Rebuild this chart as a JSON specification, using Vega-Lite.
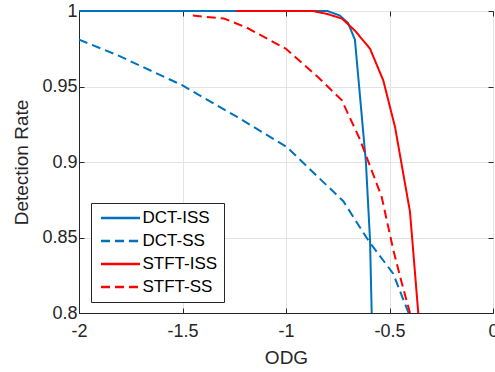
{
  "$schema": "https://vega.github.io/schema/vega-lite/v6.json",
  "width": 414,
  "height": 302,
  "autosize": "none",
  "padding": {"left": 79, "top": 11, "right": 2, "bottom": 59},
  "background": "white",
  "config": {
    "font": "Liberation Sans",
    "view": {"stroke": "#262626", "strokeWidth": 1}
  },
  "data": {
    "values": [
      {"series": "DCT-ISS", "odg": -2.0, "rate": 1.0},
      {"series": "DCT-ISS", "odg": -0.8, "rate": 1.0},
      {"series": "DCT-ISS", "odg": -0.74, "rate": 0.997},
      {"series": "DCT-ISS", "odg": -0.70, "rate": 0.992},
      {"series": "DCT-ISS", "odg": -0.667, "rate": 0.981},
      {"series": "DCT-ISS", "odg": -0.614, "rate": 0.900},
      {"series": "DCT-ISS", "odg": -0.594, "rate": 0.848},
      {"series": "DCT-ISS", "odg": -0.586, "rate": 0.800},
      {"series": "DCT-SS", "odg": -2.0, "rate": 0.981},
      {"series": "DCT-SS", "odg": -1.818, "rate": 0.971},
      {"series": "DCT-SS", "odg": -1.504, "rate": 0.951},
      {"series": "DCT-SS", "odg": -1.238, "rate": 0.930},
      {"series": "DCT-SS", "odg": -0.997, "rate": 0.910},
      {"series": "DCT-SS", "odg": -0.723, "rate": 0.874},
      {"series": "DCT-SS", "odg": -0.602, "rate": 0.848},
      {"series": "DCT-SS", "odg": -0.482, "rate": 0.826},
      {"series": "DCT-SS", "odg": -0.408, "rate": 0.800},
      {"series": "STFT-ISS", "odg": -1.24, "rate": 1.0},
      {"series": "STFT-ISS", "odg": -0.87, "rate": 1.0},
      {"series": "STFT-ISS", "odg": -0.80, "rate": 0.998},
      {"series": "STFT-ISS", "odg": -0.73, "rate": 0.995},
      {"series": "STFT-ISS", "odg": -0.667, "rate": 0.987},
      {"series": "STFT-ISS", "odg": -0.594, "rate": 0.975},
      {"series": "STFT-ISS", "odg": -0.53, "rate": 0.954},
      {"series": "STFT-ISS", "odg": -0.473, "rate": 0.923},
      {"series": "STFT-ISS", "odg": -0.401, "rate": 0.867},
      {"series": "STFT-ISS", "odg": -0.361, "rate": 0.800},
      {"series": "STFT-SS", "odg": -1.45, "rate": 0.997},
      {"series": "STFT-SS", "odg": -1.3, "rate": 0.995},
      {"series": "STFT-SS", "odg": -1.19, "rate": 0.989},
      {"series": "STFT-SS", "odg": -1.0, "rate": 0.975},
      {"series": "STFT-SS", "odg": -0.836, "rate": 0.955},
      {"series": "STFT-SS", "odg": -0.731, "rate": 0.941},
      {"series": "STFT-SS", "odg": -0.643, "rate": 0.915},
      {"series": "STFT-SS", "odg": -0.538, "rate": 0.877},
      {"series": "STFT-SS", "odg": -0.482, "rate": 0.842},
      {"series": "STFT-SS", "odg": -0.441, "rate": 0.820},
      {"series": "STFT-SS", "odg": -0.401, "rate": 0.800}
    ]
  },
  "resolve": {"axis": {"x": "independent", "y": "independent"}},
  "layer": [
    {
      "mark": {"type": "line", "opacity": 0},
      "encoding": {
        "x": {
          "field": "odg", "type": "quantitative",
          "scale": {"domain": [-2, 0], "nice": false},
          "axis": {
            "orient": "top", "title": null, "labels": false, "grid": false, "domain": false,
            "values": [-2, -1.5, -1, -0.5, 0], "tickSize": -5, "tickColor": "#262626"
          }
        },
        "y": {
          "field": "rate", "type": "quantitative",
          "scale": {"domain": [0.8, 1], "nice": false, "zero": false},
          "axis": {
            "orient": "right", "title": null, "labels": false, "grid": false, "domain": false,
            "values": [0.8, 0.85, 0.9, 0.95, 1], "tickSize": -5, "tickColor": "#262626"
          }
        }
      }
    },
    {
      "mark": {"type": "line", "strokeWidth": 2, "clip": false},
      "encoding": {
        "x": {
          "field": "odg", "type": "quantitative",
          "scale": {"domain": [-2, 0], "nice": false},
          "axis": {
            "orient": "bottom", "title": "ODG", "values": [-2, -1.5, -1, -0.5, 0],
            "labelExpr": "toString(datum.value)",
            "labelFontSize": 18, "labelColor": "#262626", "labelPadding": 14,
            "titleFontSize": 19, "titleFontWeight": "normal", "titleColor": "#262626", "titlePadding": 8,
            "tickSize": -5, "tickColor": "#262626", "domainColor": "#262626",
            "gridColor": "#e3e3e3", "grid": true, "labelFlush": false
          }
        },
        "y": {
          "field": "rate", "type": "quantitative",
          "scale": {"domain": [0.8, 1], "nice": false, "zero": false},
          "axis": {
            "orient": "left", "title": "Detection Rate", "values": [0.8, 0.85, 0.9, 0.95, 1],
            "labelExpr": "toString(datum.value)",
            "labelFontSize": 18, "labelColor": "#262626", "labelPadding": 7,
            "titleFontSize": 19, "titleFontWeight": "normal", "titleColor": "#262626", "titlePadding": 10,
            "tickSize": -5, "tickColor": "#262626", "domainColor": "#262626",
            "gridColor": "#e3e3e3", "grid": true, "labelFlush": false
          }
        },
        "color": {
          "field": "series", "type": "nominal",
          "scale": {"domain": ["DCT-ISS", "DCT-SS", "STFT-ISS", "STFT-SS"], "range": ["#0072BD", "#0072BD", "#FF0000", "#FF0000"]},
          "legend": {
            "title": null, "orient": "none", "legendX": 12, "legendY": 192,
            "symbolType": "M-1,0H6.8", "symbolSize": 100, "symbolStrokeWidth": 2.5,
            "labelFontSize": 17, "labelColor": "#000000", "labelOffset": 28,
            "rowPadding": 5, "padding": 6.5,
            "strokeColor": "#262626", "fillColor": "white"
          }
        },
        "strokeDash": {
          "field": "series", "type": "nominal",
          "scale": {"domain": ["DCT-ISS", "DCT-SS", "STFT-ISS", "STFT-SS"], "range": [[1, 0], [9, 5], [1, 0], [9, 5]]},
          "legend": null
        }
      }
    }
  ]
}
